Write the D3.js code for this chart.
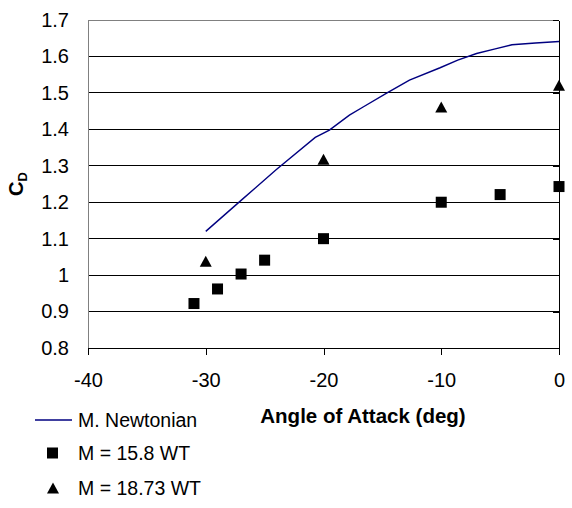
<!DOCTYPE html>
<html>
<head>
<meta charset="utf-8">
<script src="https://cdn.jsdelivr.net/npm/d3@7"></script>
<style>
  body { margin: 0; background: #fff; }
  text { font-family: "Liberation Sans", Arial, sans-serif; }
</style>
</head>
<body>
<div class="canvas"></div>
<script>
// modified Newtonian curve
const newtonianAngle = [-30, -27, -24, -20.7, -19.5, -17.8, -16.6, -14.6, -12.7, -10.1, -8.6, -7, -5.5, -4, -2, 0];
const newtonianCd = [1.12, 1.205, 1.29, 1.378, 1.398, 1.439, 1.462, 1.5, 1.535, 1.569, 1.59, 1.608, 1.62, 1.632, 1.637, 1.641];

// wind tunnel points
const wt158Angle = [-31, -29, -27, -25, -20, -10, -5, 0];
const wt158Cd = [0.922, 0.962, 1.003, 1.041, 1.1, 1.2, 1.221, 1.243];
const wt1873Angle = [-30, -20, -10, 0];
const wt1873Cd = [1.038, 1.318, 1.461, 1.521];

const xTicks = [-40, -30, -20, -10, 0];
const yTicks = [0.8, 0.9, 1, 1.1, 1.2, 1.3, 1.4, 1.5, 1.6, 1.7];
const legendLabels = ['M. Newtonian', 'M = 15.8 WT', 'M = 18.73 WT'];

const W = 572, H = 508;
const plot = { left: 88, right: 559, top: 20, bottom: 348 };
const FONT = '"Liberation Sans", Arial, sans-serif';

const svg = d3
  .select('.canvas')
  .append('svg')
  .attr('width', W)
  .attr('height', H);

const x = d3.scaleLinear().domain([-40, 0]).range([plot.left, plot.right]);
const y = d3.scaleLinear().domain([0.8, 1.7]).range([plot.bottom, plot.top]);

// gridlines
svg.append('g')
  .attr('shape-rendering', 'crispEdges')
  .selectAll('line')
  .data(yTicks.filter(d => d > 0.8 && d < 1.7))
  .join('line')
  .attr('x1', plot.left)
  .attr('x2', plot.right)
  .attr('y1', d => y(d))
  .attr('y2', d => y(d))
  .attr('stroke', '#000');

// plot border (top + left, gray)
svg.append('path')
  .attr('shape-rendering', 'crispEdges')
  .attr('d', `M${plot.left},${plot.bottom}V${plot.top}H${plot.right}`)
  .attr('fill', 'none')
  .attr('stroke', '#808080');

// y labels on the left
const yLabels = svg.append('g')
  .attr('transform', `translate(${plot.left},0)`)
  .call(d3.axisLeft(y).tickValues(yTicks).tickSize(0).tickPadding(19).tickFormat(d => String(d)));
yLabels.select('.domain').remove();
yLabels.selectAll('text').attr('font-size', 20).attr('fill', '#000').style('font-family', FONT);

// value axis line at angle 0
const yAxis = svg.append('g')
  .attr('transform', `translate(${plot.right},0)`)
  .attr('shape-rendering', 'crispEdges')
  .call(d3.axisLeft(y).tickValues(yTicks).tickSize(6).tickSizeOuter(0).tickFormat(''));
yAxis.selectAll('line, path').attr('stroke', '#000');

// x axis
const xAxis = svg.append('g')
  .attr('transform', `translate(0,${plot.bottom})`)
  .attr('shape-rendering', 'crispEdges')
  .call(d3.axisBottom(x).tickValues(xTicks).tickSize(7).tickSizeOuter(0).tickPadding(18).tickFormat(d => String(d)));
xAxis.selectAll('line, path').attr('stroke', '#000');
xAxis.selectAll('text').attr('font-size', 20).attr('fill', '#000').style('font-family', FONT);

// axis titles
svg.append('text')
  .attr('x', 363)
  .attr('y', 423)
  .attr('text-anchor', 'middle')
  .attr('font-size', 20.5)
  .attr('font-weight', 'bold')
  .text('Angle of Attack (deg)');

const yTitle = svg.append('text')
  .attr('transform', 'translate(23,184) rotate(-90)')
  .attr('text-anchor', 'middle')
  .attr('font-size', 20)
  .attr('font-weight', 'bold');
yTitle.append('tspan').text('C');
yTitle.append('tspan').attr('font-size', 13).attr('dy', 4).text('D');

// newtonian line
const newtonian = newtonianAngle.map((a, i) => [a, newtonianCd[i]]);
const line = d3.line().x(d => x(d[0])).y(d => y(d[1]));
svg.append('path')
  .datum(newtonian)
  .attr('d', line)
  .attr('fill', 'none')
  .attr('stroke', '#000080')
  .attr('stroke-width', 1.4);

const triPath = (w, h) => `M0,${-h / 2}L${w / 2},${h / 2}L${-w / 2},${h / 2}Z`;

// squares
svg.append('g')
  .selectAll('rect')
  .data(wt158Angle.map((a, i) => [a, wt158Cd[i]]))
  .join('rect')
  .attr('x', d => x(d[0]) - 5.5)
  .attr('y', d => y(d[1]) - 5.5)
  .attr('width', 11)
  .attr('height', 11)
  .attr('fill', '#000');

// triangles
svg.append('g')
  .selectAll('path')
  .data(wt1873Angle.map((a, i) => [a, wt1873Cd[i]]))
  .join('path')
  .attr('transform', d => `translate(${x(d[0])},${y(d[1])})`)
  .attr('d', triPath(12, 11))
  .attr('fill', '#000');

// legend
const legend = svg.append('g');
const rowY = [420, 453, 488];
legend.append('line')
  .attr('x1', 35).attr('x2', 72)
  .attr('y1', rowY[0]).attr('y2', rowY[0])
  .attr('stroke', '#000080')
  .attr('stroke-width', 1.4);
legend.append('rect')
  .attr('x', 47).attr('y', rowY[1] - 5.5)
  .attr('width', 11).attr('height', 11)
  .attr('fill', '#000');
legend.append('path')
  .attr('transform', `translate(53,${rowY[2]})`)
  .attr('d', triPath(12, 11))
  .attr('fill', '#000');
legend.selectAll('text')
  .data(legendLabels)
  .join('text')
  .attr('x', 78)
  .attr('y', (d, i) => rowY[i] + 7)
  .attr('font-size', 19.5)
  .text(d => d);
</script>
</body>
</html>
